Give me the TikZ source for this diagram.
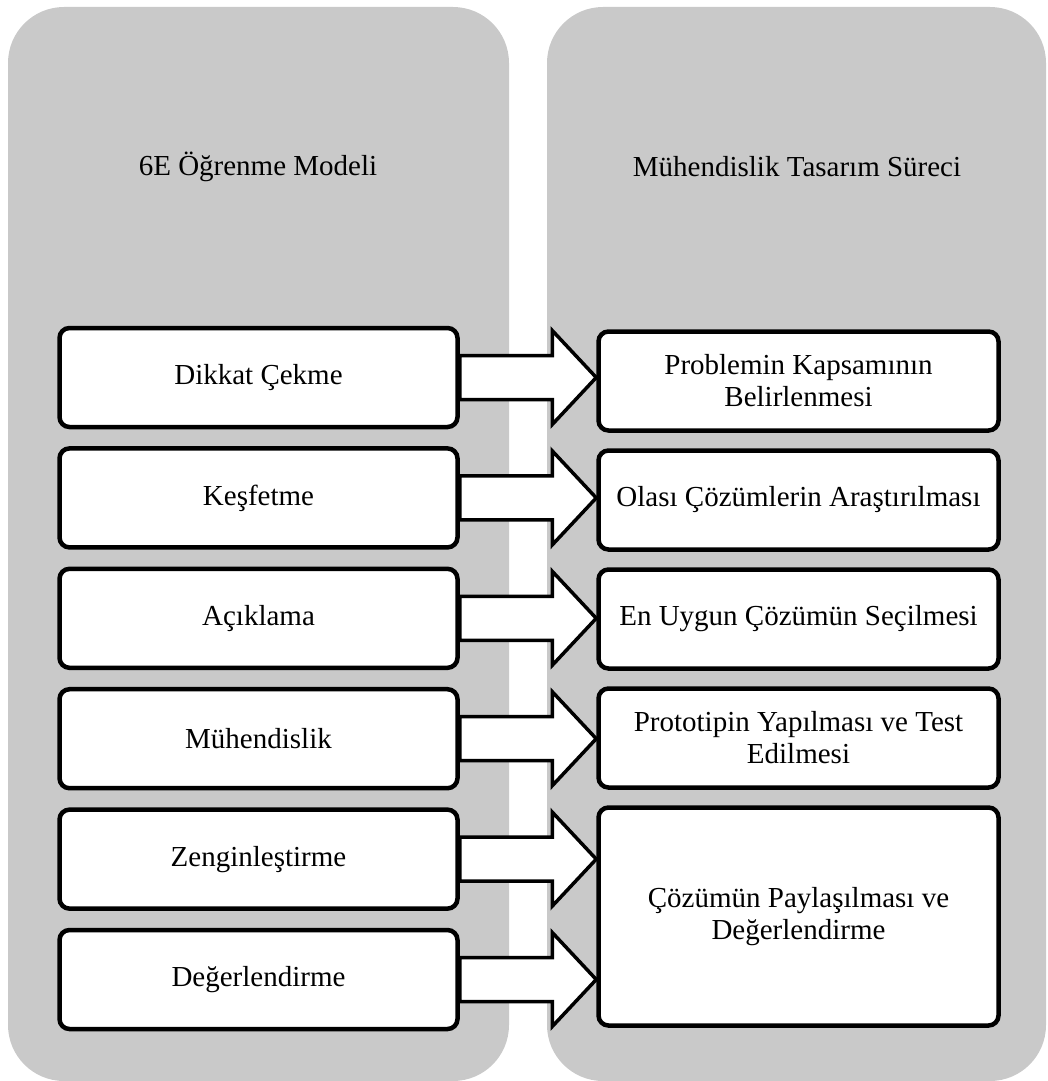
\documentclass[tikz,border=0pt]{standalone}
\usepackage{fontspec}
\setmainfont{Liberation Serif}
\usetikzlibrary{calc}
\definecolor{panelgray}{RGB}{201,201,201}

\begin{document}
\begin{tikzpicture}[x=1pt, y=-1pt,
  panel/.style={rectangle, rounded corners=56pt, fill=panelgray, inner sep=0pt, minimum height=1074pt},
  heading/.style={font=\fontsize{29}{32}\selectfont, align=center},
  phase/.style={rectangle, draw=black, line width=4.5pt, rounded corners=10pt, fill=white, inner sep=0pt, minimum width=398pt, minimum height=99pt, font=\fontsize{29}{32}\selectfont, align=center},
  stage/.style={phase, minimum width=400pt},
  link/.style={draw=black, line width=3.5pt, fill=white, to path={let \p1=(\tikztostart), \p2=(\tikztotarget) in (\x1,\y1+22pt) -- (\x2-44pt,\y1+22pt) -- (\x2-44pt,\y1+47pt) -- (\x2,\y1) -- (\x2-44pt,\y1-47pt) -- (\x2-44pt,\y1-22pt) -- (\x1,\y1-22pt) -- cycle}}
]
\useasboundingbox (0,0) rectangle (1047,1081);
\node[panel, minimum width=501pt] (lpanel) at (258.5,544) {};
\node[panel, minimum width=499pt] (rpanel) at (796.5,544) {};
\node[heading] (lhead) at (258,167) {6E Öğrenme Modeli};
\node[heading] (rhead) at (797,167) {Mühendislik Tasarım Süreci};
\node[phase] (l1) at (258.5,377.5) {Dikkat Çekme};
\node[phase] (l2) at (258.5,497.9) {Keşfetme};
\node[phase] (l3) at (258.5,618.3) {Açıklama};
\node[phase] (l4) at (258.5,738.7) {Mühendislik};
\node[phase] (l5) at (258.5,859.1) {Zenginleştirme};
\node[phase] (l6) at (258.5,979.5) {Değerlendirme};
\node[stage] (r1) at (798.5,381) {Problemin Kapsamının\\Belirlenmesi};
\node[stage] (r2) at (798.5,500) {Olası Çözümlerin Araştırılması};
\node[stage] (r3) at (798.5,619) {En Uygun Çözümün Seçilmesi};
\node[stage] (r4) at (798.5,738) {Prototipin Yapılması ve Test\\Edilmesi};
\node[stage, minimum height=218pt] (r5) at (798.5,916.5) {Çözümün Paylaşılması ve\\Değerlendirme};
\draw[link] (l1.east) to (r1.west);
\draw[link] (l2.east) to (r2.west);
\draw[link] (l3.east) to (r3.west);
\draw[link] (l4.east) to (r4.west);
\draw[link] (l5.east) to (r5.west);
\draw[link] (l6.east) to (r5.west);
\end{tikzpicture}
\end{document}
